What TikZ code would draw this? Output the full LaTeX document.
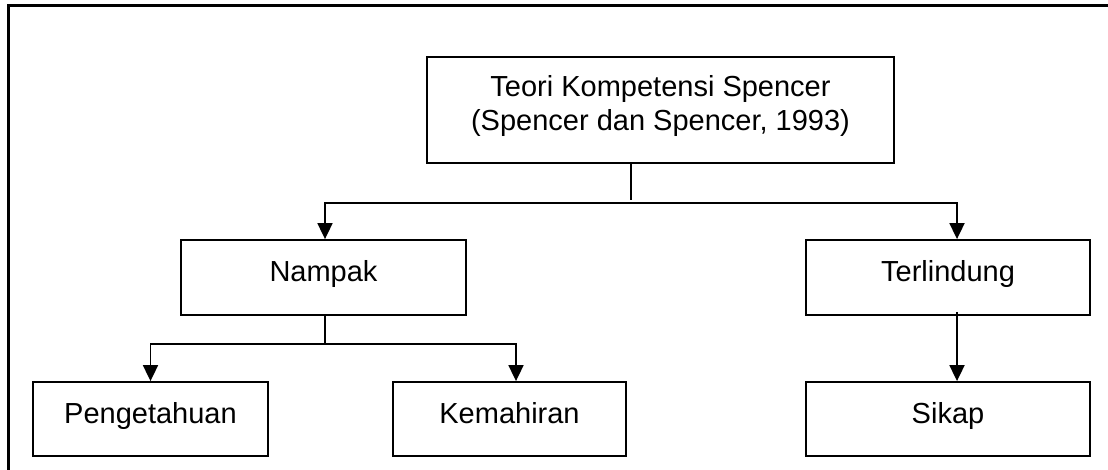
\documentclass[tikz,border=0pt]{standalone}
\usepackage{fontspec}
\setmainfont{Liberation Sans}
\usepackage{tikz}
\usetikzlibrary{arrows.meta, positioning, calc}

\begin{document}
\begin{tikzpicture}[x=1pt, y=-1pt,
    box/.style={rectangle, draw=black, line width=1.8pt, fill=white, inner sep=0pt,
      font=\fontsize{29}{34}\selectfont},
    onebox/.style={box, text height=21pt, text depth=13pt},
    ln/.style={line width=1.8pt, color=black},
    arr/.style={ln, -{Triangle[width=15pt, length=16pt]}},
    frame/.style={line width=3pt, color=black}
  ]
    \useasboundingbox (0,0) rectangle (1108,470);

    % ── outer frame (cut off at right and bottom)
    \draw[frame] (8,480) -- (8,6) -- (1120,6);

    % ── theory
    \node[box, minimum width=467pt, minimum height=106pt, align=center, text depth=14pt] (theory) at (660.5,110)
      {Teori Kompetensi Spencer\\(Spencer dan Spencer, 1993)};

    % ── second level
    \node[onebox, minimum width=285pt, minimum height=75pt] (nampak) at (323.5,277.5) {Nampak};
    \node[onebox, minimum width=284pt, minimum height=75pt] (terlindung) at (948,277.5) {Terlindung};

    % ── third level
    \node[onebox, minimum width=235pt, minimum height=74pt] (pengetahuan) at (150.5,419) {Pengetahuan};
    \node[onebox, minimum width=233pt, minimum height=74pt] (kemahiran) at (509.5,419) {Kemahiran};
    \node[onebox, minimum width=284pt, minimum height=74pt] (sikap) at (948,419) {Sikap};

    % ── junctions
    \coordinate (tj) at (631,203);
    \coordinate (nj) at (325,344);

    % ── arrows
    \draw[ln] (theory.south -| tj) -- ([yshift=3pt]tj);
    \draw[arr] (tj) -| ([xshift=1.5pt]nampak.north);
    \draw[arr] (tj) -| ([xshift=9pt]terlindung.north);
    \draw[ln] (nampak.south -| nj) -- (nj);
    \draw[arr] (nj) -| (pengetahuan.north);
    \draw[arr] (nj) -| ([xshift=6.5pt]kemahiran.north);
    \draw[arr] ([xshift=9pt, yshift=4pt]terlindung.south) -- ([xshift=9pt]sikap.north);
  \end{tikzpicture}
\end{document}
